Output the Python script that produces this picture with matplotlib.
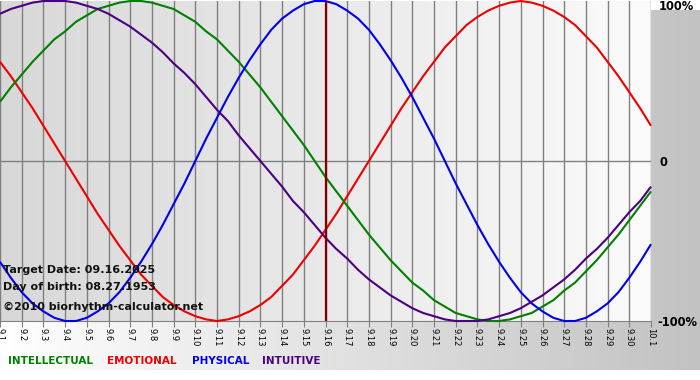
import matplotlib
matplotlib.use('Agg')
import matplotlib.pyplot as plt
import numpy as np
from matplotlib.colors import LinearSegmentedColormap

dates = ['9.%d' % d for d in range(1, 31)] + ['10.1']
# curve values every half day, from 9.1 to 10.1
physical = [-0.63, -0.73, -0.82, -0.89, -0.94, -0.98, -1.00, -1.00, -0.98, -0.94,
            -0.89, -0.82, -0.73, -0.63, -0.52, -0.40, -0.27, -0.14, 0.00, 0.14,
            0.27, 0.40, 0.52, 0.63, 0.73, 0.82, 0.89, 0.94, 0.98, 1.00,
            1.00, 0.98, 0.94, 0.89, 0.82, 0.73, 0.63, 0.52, 0.40, 0.27,
            0.14, 0.00, -0.14, -0.27, -0.40, -0.52, -0.63, -0.73, -0.82, -0.89,
            -0.94, -0.98, -1.00, -1.00, -0.98, -0.94, -0.89, -0.82, -0.73, -0.63, -0.52]
emotional = [0.62, 0.53, 0.43, 0.33, 0.22, 0.11, 0.00, -0.11, -0.22, -0.33,
             -0.43, -0.53, -0.62, -0.71, -0.78, -0.85, -0.90, -0.94, -0.97, -0.99,
             -1.00, -0.99, -0.97, -0.94, -0.90, -0.85, -0.78, -0.71, -0.62, -0.53,
             -0.43, -0.33, -0.22, -0.11, 0.00, 0.11, 0.22, 0.33, 0.43, 0.53,
             0.62, 0.71, 0.78, 0.85, 0.90, 0.94, 0.97, 0.99, 1.00, 0.99,
             0.97, 0.94, 0.90, 0.85, 0.78, 0.71, 0.62, 0.53, 0.43, 0.33, 0.22]
intellectual = [0.37, 0.46, 0.54, 0.62, 0.69, 0.76, 0.81, 0.87, 0.91, 0.95,
                0.97, 0.99, 1.00, 1.00, 0.99, 0.97, 0.95, 0.91, 0.87, 0.81,
                0.76, 0.69, 0.62, 0.54, 0.46, 0.37, 0.28, 0.19, 0.10, 0.00,
                -0.10, -0.19, -0.28, -0.37, -0.46, -0.54, -0.62, -0.69, -0.76, -0.81,
                -0.87, -0.91, -0.95, -0.97, -0.99, -1.00, -1.00, -0.99, -0.97, -0.95,
                -0.91, -0.87, -0.81, -0.76, -0.69, -0.62, -0.54, -0.46, -0.37, -0.28, -0.19]
intuitive = [0.92, 0.95, 0.97, 0.99, 1.00, 1.00, 1.00, 0.99, 0.97, 0.95,
             0.92, 0.88, 0.84, 0.79, 0.74, 0.68, 0.61, 0.55, 0.48, 0.40,
             0.32, 0.25, 0.16, 0.08, 0.00, -0.08, -0.16, -0.25, -0.32, -0.40,
             -0.48, -0.55, -0.61, -0.68, -0.74, -0.79, -0.84, -0.88, -0.92, -0.95,
             -0.97, -0.99, -1.00, -1.00, -1.00, -0.99, -0.97, -0.95, -0.92, -0.88,
             -0.84, -0.79, -0.74, -0.68, -0.61, -0.55, -0.48, -0.40, -0.32, -0.25, -0.16]
target_date = '9.16'
y_labels = ['100%', '0', '-100%']
info_lines = ['Target Date: 09.16.2025', 'Day of birth: 08.27.1953', '\u00a92010 biorhythm-calculator.net']
legend_names = ['INTELLECTUAL', 'EMOTIONAL', 'PHYSICAL', 'INTUITIVE']

colors = {'INTELLECTUAL': '#008000', 'EMOTIONAL': '#ee0000',
          'PHYSICAL': '#0000ee', 'INTUITIVE': '#4b0082'}

W, H = 700, 380
fig = plt.figure(figsize=(W / 100, H / 100), dpi=100)
fig.patch.set_facecolor('white')

bg = fig.add_axes([0, 10 / H, 1, 360 / H])
bg.imshow(np.linspace(0, 1, 256)[None, :], aspect='auto',
          cmap=LinearSegmentedColormap.from_list('f', ['#ffffff', '#c2c2c2']),
          extent=(0, 1, 0, 1))
bg.axis('off')

ax = fig.add_axes([0, 59 / H, 651 / W, 320 / H])
x_days = np.arange(len(dates))
x_samples = np.linspace(0, len(dates) - 1, len(physical))
ax.set_xlim(0, len(dates) - 1)
ax.set_ylim(-1, 1)
ax.imshow(np.linspace(0, 1, 256)[None, :], aspect='auto',
          cmap=LinearSegmentedColormap.from_list('p', ['#d8d8d8', '#fbfbfb']),
          extent=(0, len(dates) - 1, -1, 1), zorder=0)

ax.set_xticks(x_days)
ax.set_xticklabels(dates, rotation=-90, fontsize=6, fontfamily='DejaVu Sans')
ax.tick_params(axis='x', direction='out', length=4, color='#808080', pad=1)
ax.set_yticks([])
ax.grid(axis='x', color='#808080', lw=1, zorder=1)
ax.axhline(0, color='#808080', lw=1, zorder=1)
for s in ['top', 'left', 'right']:
    ax.spines[s].set_visible(False)
ax.spines['bottom'].set_color('#808080')
ax.set_axisbelow(True)

series = {'INTELLECTUAL': intellectual, 'EMOTIONAL': emotional,
          'PHYSICAL': physical, 'INTUITIVE': intuitive}
for name in ['EMOTIONAL', 'INTELLECTUAL', 'PHYSICAL', 'INTUITIVE']:
    ax.plot(x_samples, series[name], color=colors[name], lw=1.5, zorder=3, clip_on=False,
            solid_capstyle='butt', solid_joinstyle='round')
ax.axvline(dates.index(target_date), color='#800000', lw=1.6, zorder=4)

# right axis labels
fig.text(659 / W, 1 - 7 / H, y_labels[0], fontsize=8.3, fontweight='bold', va='center', ha='left')
fig.text(659 / W, 1 - 162 / H, y_labels[1], fontsize=8.3, fontweight='bold', va='center', ha='left')
fig.text(657 / W, 1 - 322 / H, y_labels[2], fontsize=8.3, fontweight='bold', va='center', ha='left')

# info text
for t, yy in zip(info_lines, [270, 287, 307]):
    fig.text(3 / W, 1 - yy / H, t, fontsize=8, fontweight='bold', va='center', ha='left', color='#111111')

# legend text
for name, xx in zip(legend_names, [8, 107, 192, 262]):
    fig.text(xx / W, 1 - 361 / H, name, fontsize=7.5, fontweight='bold', va='center', ha='left',
             color=colors[name])

fig.savefig('out.png', dpi=100)
